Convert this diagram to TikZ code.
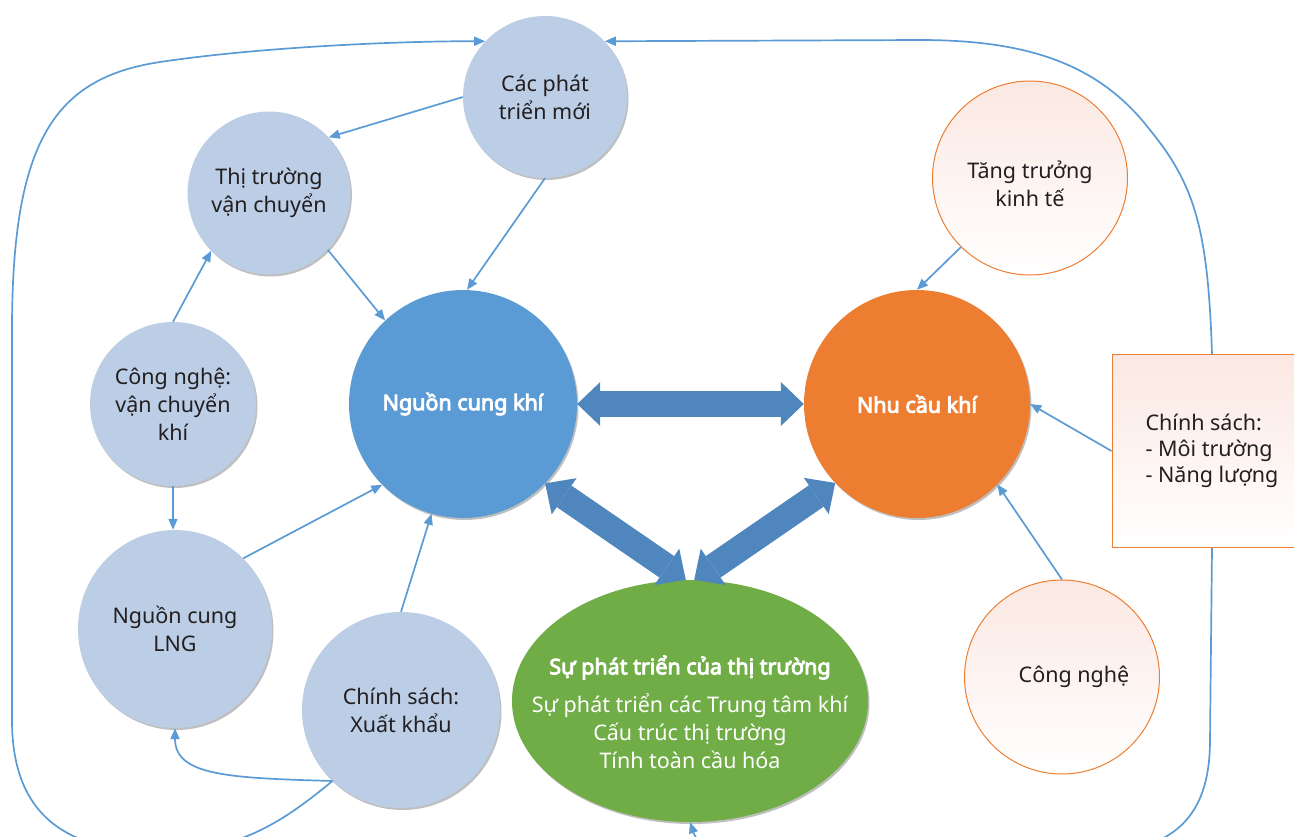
\documentclass[tikz,border=0pt]{standalone}
\usepackage{fontspec}
\setmainfont{Noto Sans}
\newfontfamily\boldsans{Noto Sans}[FakeBold=4]
\usetikzlibrary{arrows.meta,shapes.geometric,shadows}

\definecolor{paleblue}{RGB}{187,206,230}
\definecolor{supplyblue}{RGB}{91,155,213}
\definecolor{demandorange}{RGB}{237,125,49}
\definecolor{marketgreen}{RGB}{112,173,71}
\definecolor{fatblue}{RGB}{79,134,189}
\definecolor{linkblue}{RGB}{91,155,213}
\definecolor{darktext}{RGB}{35,31,32}
\definecolor{softpink}{RGB}{251,232,226}

\begin{document}
\begin{tikzpicture}[x=1pt,y=-1pt,
  bubble/.style={ellipse,fill=paleblue,text=darktext,align=center,inner sep=0pt,
    font=\fontsize{21.5}{28}\selectfont,
    drop shadow={shadow xshift=1.5pt,shadow yshift=-2pt,fill=black,opacity=.25}},
  mainbubble/.style={bubble,text=white,font=\fontsize{21.5}{28}\selectfont\boldsans},
  factor/.style={ellipse,draw=demandorange,line width=1pt,top color=softpink,bottom color=white,
    text=darktext,align=center,inner sep=0pt,font=\fontsize{21.5}{28}\selectfont},
  policybox/.style={rectangle,draw=demandorange,line width=1pt,top color=softpink,bottom color=white,
    text=darktext,align=left,inner sep=0pt,font=\fontsize{21.5}{26}\selectfont},
  link/.style={draw=linkblue,line width=1.7pt,-{Triangle[length=11pt,width=9pt]}},
  fatlink/.style={draw=fatblue,line width=26pt,
    {Triangle[length=23pt,width=44pt,line width=0pt]}-{Triangle[length=23pt,width=44pt,line width=0pt]}}]
\clip (0,0) rectangle (1294,836);

% supply side
\node[bubble,minimum width=164pt,minimum height=162pt](cacphat) at (545,97) {Các phát\\triển mới};
\node[bubble,minimum width=162pt,minimum height=163pt](thitruong) at (269,193) {Thị trường\\vận chuyển};
\node[bubble,minimum width=166pt,minimum height=164pt](congnghevc) at (173,404) {Công nghệ:\\vận chuyển\\khí};
\node[bubble,minimum width=194pt,minimum height=198pt](lng) at (175,629) {Nguồn cung\\LNG};
\node[bubble,minimum width=198pt,minimum height=196pt](xuatkhau) at (401,710) {Chính sách:\\ Xuất khẩu};
\node[mainbubble,fill=supplyblue,minimum width=228pt,minimum height=228pt](supply) at (463,404) {Nguồn cung khí};

% demand side
\node[mainbubble,fill=demandorange,minimum width=226pt,minimum height=228pt](demand) at (917,404) {Nhu cầu khí};
\node[factor,minimum width=195pt,minimum height=194pt](tangtruong) at (1030,178) {\rule{0pt}{30pt}Tăng trưởng\\kinh tế};
\node[factor,minimum width=195pt,minimum height=194pt](congnghe) at (1062,677) {\hspace*{24pt}Công nghệ};
\node[policybox,minimum width=200pt,minimum height=193pt](policy) at (1212,451) {Chính sách:\\ - Môi trường\\ - Năng lượng};

% market
\node[bubble,fill=marketgreen,minimum width=356pt,minimum height=242pt](market) at (690,701) {};
\node[text=white,align=center,font=\fontsize{21.5}{28}\selectfont](markettext) at (690,712)
  {{\boldsans Sự phát triển của thị trường}\\[10pt]Sự phát triển các Trung tâm khí\\Cấu trúc thị trường\\Tính toàn cầu hóa};

\draw[fatlink](supply.east)--(demand.west);
\draw[fatlink](supply.-44)--(market.92);
\draw[fatlink](demand.224)--(market.88);

\draw[link](cacphat.west)--(thitruong.43);
\draw[link](cacphat.south)--(supply.88);
\draw[link](thitruong.-44)--(supply.133);
\draw[link](congnghevc.north)--(thitruong.225);
\draw[link](congnghevc.south)--(congnghevc.south |- lng.north);
\draw[link](lng.46)--(supply.225);
\draw[link](xuatkhau.north)--(supply.254);
\draw[link](xuatkhau.226) .. controls (230,778) and (175,776) .. (lng.south);
\draw[link](tangtruong.225)--(demand.north);
\draw[link](policy.west)--(demand.east);
\draw[link](congnghe.north)--(demand.-45);

% feedback loops
\draw[link](xuatkhau.226) .. controls (285,820) and (240,852) .. (160,852)
  .. controls (60,852) and (12,810) .. (12,720) -- (12,330)
  .. controls (12,140) and (55,78) .. (160,62)
  .. controls (260,47) and (400,41) .. (cacphat.137);
\draw[link](policy.north) .. controls (1208,230) and (1195,185) .. (1150,130)
  .. controls (1100,65) and (1030,40) .. (920,40) -- (cacphat.43);
\draw[link](policy.south) -- (1210,740) .. controls (1210,810) and (1180,850) .. (1100,852)
  -- (730,852) .. controls (705,852) and (696,840) .. (market.south);
\end{tikzpicture}
\end{document}
